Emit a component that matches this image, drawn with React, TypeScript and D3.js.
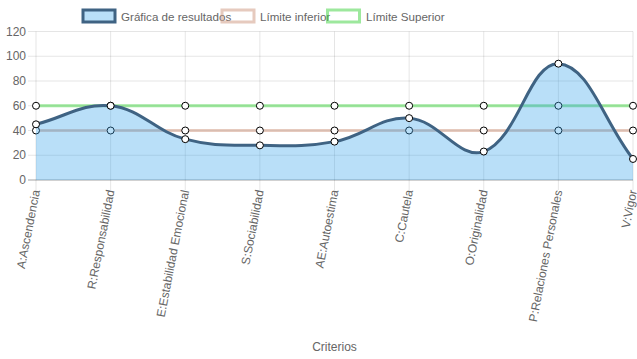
import React from "react";
import * as d3 from "d3";

const categories = [
  "A:Ascendencia",
  "R:Responsabilidad",
  "E:Estabilidad Emocional",
  "S:Sociabilidad",
  "AE:Autoestima",
  "C:Cautela",
  "O:Originalidad",
  "P:Relaciones Personales",
  "V:Vigor",
];
const resultados = [45, 60, 33, 28, 31, 50, 23, 94, 17];
const limiteInferior = [40, 40, 40, 40, 40, 40, 40, 40, 40];
const limiteSuperior = [60, 60, 60, 60, 60, 60, 60, 60, 60];
const yTicks = [0, 20, 40, 60, 80, 100, 120];

const W = 637;
const H = 359;
const left = 36;
const right = 633;
const top = 31.5;
const bottom = 180;

const FONT = "'Liberation Sans', Arial, Helvetica, sans-serif";
const TXT = "#666";

const fillBlue = "rgba(54,162,235,0.35)";
const strokeBlue = "#3f6383";
const lowerColor = "rgba(205,150,125,0.5)";
const upperColor = "rgba(60,210,60,0.5)";

function splinePath(pts: [number, number][], t = 0.4) {
  const n = pts.length;
  const cps: { px: number; py: number; nx: number; ny: number }[] = [];
  const clampX = (v: number) => Math.max(left, Math.min(right, v));
  const clampY = (v: number) => Math.max(top, Math.min(bottom, v));
  for (let i = 0; i < n; i++) {
    const prev = pts[Math.max(0, i - 1)];
    const cur = pts[i];
    const next = pts[Math.min(n - 1, i + 1)];
    const d01 = Math.hypot(cur[0] - prev[0], cur[1] - prev[1]);
    const d12 = Math.hypot(next[0] - cur[0], next[1] - cur[1]);
    let s01 = d01 / (d01 + d12);
    let s12 = d12 / (d01 + d12);
    if (!isFinite(s01)) s01 = 0;
    if (!isFinite(s12)) s12 = 0;
    const fa = t * s01;
    const fb = t * s12;
    cps.push({
      px: clampX(cur[0] - fa * (next[0] - prev[0])),
      py: clampY(cur[1] - fa * (next[1] - prev[1])),
      nx: clampX(cur[0] + fb * (next[0] - prev[0])),
      ny: clampY(cur[1] + fb * (next[1] - prev[1])),
    });
  }
  const p = d3.path();
  p.moveTo(pts[0][0], pts[0][1]);
  for (let i = 1; i < n; i++) {
    p.bezierCurveTo(cps[i - 1].nx, cps[i - 1].ny, cps[i].px, cps[i].py, pts[i][0], pts[i][1]);
  }
  return p.toString();
}

export default function App() {
  const x = d3.scalePoint<string>().domain(categories).range([left, right]);
  const y = d3.scaleLinear().domain([0, 120]).range([bottom, top]);

  const resPts: [number, number][] = resultados.map((v, i) => [x(categories[i])!, y(v)]);
  const linePath = splinePath(resPts);
  const areaPath =
    linePath +
    `L${resPts[resPts.length - 1][0]},${y(0)}L${resPts[0][0]},${y(0)}Z`;

  const flatLine = (vals: number[]) =>
    d3
      .line<number>()
      .x((_, i) => x(categories[i])!)
      .y((v) => y(v))(vals)!;

  const legend = [
    { label: "Gráfica de resultados", bx: 83, tx: 121, fill: fillBlue, stroke: strokeBlue },
    { label: "Límite inferior", bx: 222, tx: 260, fill: "none", stroke: lowerColor },
    { label: "Límite Superior", bx: 327.5, tx: 366, fill: "none", stroke: upperColor },
  ];

  return (
    <svg width={W} height={H} style={{ position: "absolute", left: 0, top: 0 }} fontFamily={FONT}>
      <rect width={W} height={H} fill="#fff" />
      {/* legend */}
      {legend.map((l) => (
        <g key={l.label}>
          <rect x={l.bx} y={10} width={32} height={12} fill={l.fill} stroke={l.stroke} strokeWidth={3} />
          <text x={l.tx} y={16} dominantBaseline="central" fontSize={11.6} fill={TXT}>
            {l.label}
          </text>
        </g>
      ))}
      {/* horizontal grid */}
      {yTicks.map((t) => (
        <g key={t}>
          <line
            x1={28}
            x2={right}
            y1={y(t)}
            y2={y(t)}
            stroke={t === 0 ? "rgba(0,0,0,0.18)" : "rgba(0,0,0,0.1)"}
            strokeWidth={t === 0 ? 2 : 1}
          />
          <text x={26} y={y(t)} textAnchor="end" dominantBaseline="central" fontSize={12} fill={TXT}>
            {t}
          </text>
        </g>
      ))}
      {/* vertical grid */}
      {categories.map((c) => (
        <line
          key={c}
          x1={x(c)!}
          x2={x(c)!}
          y1={top}
          y2={bottom + 10}
          stroke="rgba(0,0,0,0.1)"
          strokeWidth={1}
        />
      ))}
      {/* upper limit */}
      <path d={flatLine(limiteSuperior)} fill="none" stroke={upperColor} strokeWidth={3} />
      {limiteSuperior.map((v, i) => (
        <circle key={"u" + i} cx={x(categories[i])!} cy={y(v)} r={3.5} fill="#fff" stroke="#000" strokeWidth={1} />
      ))}
      {/* lower limit */}
      <path d={flatLine(limiteInferior)} fill="none" stroke={lowerColor} strokeWidth={3} />
      {limiteInferior.map((v, i) => (
        <circle key={"l" + i} cx={x(categories[i])!} cy={y(v)} r={3.5} fill="#fff" stroke="#000" strokeWidth={1} />
      ))}
      {/* results */}
      <path d={areaPath} fill={fillBlue} stroke="none" />
      <path d={linePath} fill="none" stroke={strokeBlue} strokeWidth={3} />
      {resPts.map((p, i) => (
        <circle key={"r" + i} cx={p[0]} cy={p[1]} r={3.5} fill="#fff" stroke="#000" strokeWidth={1} />
      ))}
      {/* x labels */}
      {categories.map((c) => (
        <text
          key={"t" + c}
          transform={`translate(${x(c)!},${bottom + 10}) rotate(-79)`}
          textAnchor="end"
          dominantBaseline="central"
          fontSize={12}
          fill={TXT}
        >
          {c}
        </text>
      ))}
      <text x={(left + right) / 2} y={347} textAnchor="middle" dominantBaseline="central" fontSize={12} fill={TXT}>
        Criterios
      </text>
    </svg>
  );
}
